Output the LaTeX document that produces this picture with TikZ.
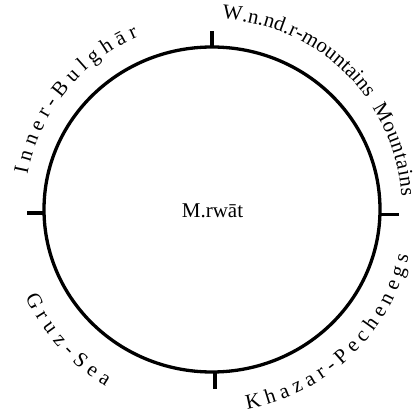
\documentclass[tikz,border=0pt]{standalone}
\usepackage{fontspec}
\setmainfont{Liberation Serif}
\usetikzlibrary{decorations.text,shapes.geometric}
\begin{document}
\begin{tikzpicture}[x=1pt,y=1pt,
  ring/.style={draw, ellipse, line width=3.3pt, minimum width=336pt, minimum height=325pt, inner sep=0pt, outer sep=0pt},
  tickline/.style={line width=3.3pt},
  arclabel/.style={decorate, decoration={text along path, text align={fit to path}, text={#1}}}]
\fontsize{21}{25}\selectfont
\useasboundingbox (0,0) rectangle (419,417);
\node[ring] (c) at (212,207.5) {};
\coordinate (o) at (212,207);
\node[anchor=base, inner sep=0pt] (m) at (212.5,199) {M.rwāt};
\draw[tickline] (c.north) -- ++(0,16);
\draw[tickline] ([xshift=3pt]c.south) -- ++(0,-17);
\draw[tickline] ([yshift=-3.5pt]c.west) -- ++(-17,0);
\draw[tickline] ([yshift=-5pt]c.east) -- ++(19,0);
\path[arclabel={Inner-Bulghār}] ([shift={(169:188pt)}]o) arc[start angle=169, end angle=113, radius=188pt];
\path[arclabel={W.n.nd.r-mountains}] ([shift={(87:191pt)}]o) arc[start angle=87, end angle=36, radius=191pt];
\path[arclabel={Mountains}] ([shift={(32.5:190pt)}]o) arc[start angle=32.5, end angle=4, radius=190pt];
\path[arclabel={Khazar-Pechenegs}] ([shift={(-80:202pt)}]o) arc[start angle=-80, end angle=-13, radius=202pt];
\path[arclabel={Gruz-Sea}] ([shift={(205:206pt)}]o) arc[start angle=205, end angle=239, radius=206pt];
\end{tikzpicture}
\end{document}
